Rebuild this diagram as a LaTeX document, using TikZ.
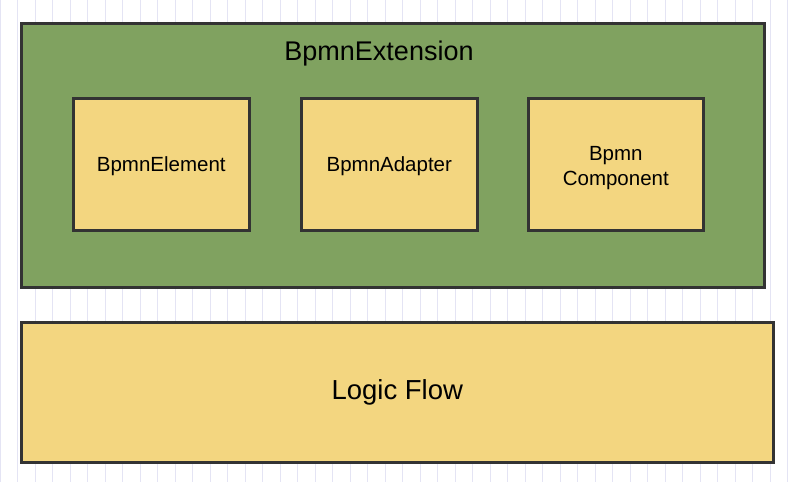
\documentclass[tikz,border=0pt]{standalone}
\usepackage{fontspec}
\setmainfont{Liberation Sans}
\definecolor{gridc}{HTML}{E4E4F4}
\definecolor{greenf}{HTML}{80A260}
\definecolor{yellowf}{HTML}{F3D680}
\definecolor{edge}{HTML}{333333}
\begin{document}
\begin{tikzpicture}[x=1pt,y=-1pt,
  box/.style={draw=edge,line width=2.6pt,fill=yellowf,anchor=north west,inner sep=0pt,align=center,font=\fontsize{20.5}{25}\selectfont},
  outerbox/.style={draw=edge,line width=2.6pt,fill=greenf,anchor=north west,inner sep=0pt},
  boxtext/.style={font=\fontsize{20.5}{25}\selectfont,align=center,inner sep=0pt}]
\useasboundingbox (0,0) rectangle (792,482);
\fill[white] (0,0) rectangle (792,482);
\draw[gridc,line width=0.7pt,step=17.5] (0,0) grid (792,482);
\node[outerbox,minimum width=743pt,minimum height=264pt] (ext) at (20,22) {};
\node[font=\fontsize{27}{32}\selectfont] (extl) at (379,54) {BpmnExtension};
\node[box,minimum width=176pt,minimum height=132pt] (el) at (72,97) {};
\node[box,minimum width=176pt,minimum height=132pt] (ad) at (300,97) {};
\node[box,minimum width=175pt,minimum height=132pt] (co) at (527,97) {};
\node[boxtext] (elt) at ([yshift=-2pt]el.center) {BpmnElement};
\node[boxtext] (adt) at ([yshift=-2pt]ad.center) {BpmnAdapter};
\node[boxtext] (cot) at ([yshift=-4pt]co.center) {Bpmn\\Component};
\node[box,minimum width=752pt,minimum height=140pt,font=\fontsize{27.5}{32}\selectfont] (lf) at (20,321) {Logic Flow};
\end{tikzpicture}
\end{document}
